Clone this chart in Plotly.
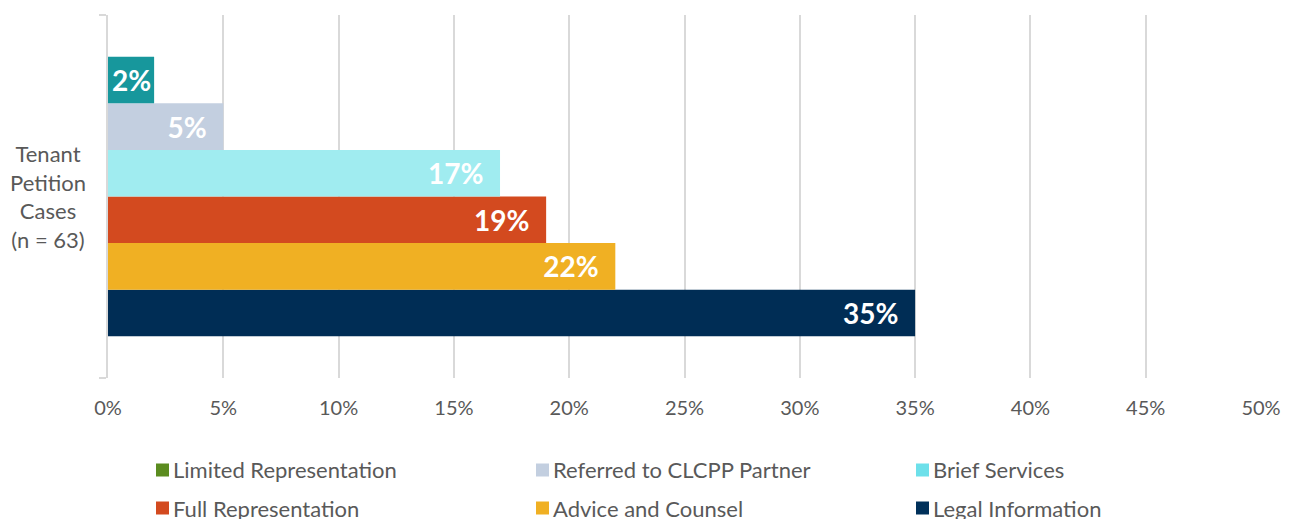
import plotly.graph_objects as go

category = ["Tenant<br>Petition<br>Cases<br>(n = 63)"]
series_names = ["Limited Representation", "Referred to CLCPP Partner", "Brief Services",
                "Full Representation", "Advice and Counsel", "Legal Information"]
series_values = [2, 5, 17, 19, 22, 35]
bar_colors = ["#17979c", "#c3cfe0", "#a0ecf0", "#d34a1f", "#f0b023", "#002d55"]
legend_colors = ["#5b8c1f", "#c3cfe0", "#6de0ea", "#d34a1f", "#f0b023", "#00305a"]
x_ticks = [0, 5, 10, 15, 20, 25, 30, 35, 40, 45, 50]

FONT = "Lato, Open Sans, sans-serif"
W, H = 1281, 511
L, R, T, B = 100, 28, 7, 141

fig = go.Figure()
# reverse so first series appears on top
for name, val, col in reversed(list(zip(series_names, series_values, bar_colors))):
    pad = "\u00a0\u00a0" if val >= 5 else ""
    fig.add_trace(go.Bar(
        y=category, x=[val], name=name, orientation="h",
        marker=dict(color=col, line=dict(width=0)),
        text=[f"{val}%{pad}"], textposition="inside", insidetextanchor="end",
        textangle=0, constraintext="none",
        textfont=dict(color="white", size=28, family=FONT, weight="bold"),
        showlegend=False, cliponaxis=False,
    ))

fig.update_layout(
    width=W, height=H,
    margin=dict(l=L, r=R, t=T, b=B, autoexpand=False),
    barmode="group", bargap=0.23, bargroupgap=0,
    plot_bgcolor="white", paper_bgcolor="white",
    font=dict(family=FONT, color="#595959", size=20),
)
fig.update_xaxes(
    range=[0, 50], tickvals=x_ticks, ticktext=[f"{t}%" for t in x_ticks],
    showgrid=True, gridcolor="#d9d9d9", gridwidth=2, zeroline=False,
    showline=False, ticks="", ticklabelstandoff=16, automargin=False,
    tickfont=dict(size=20, color="#595959", family=FONT),
)
fig.update_yaxes(
    showline=True, linecolor="#d9d9d9", linewidth=2,
    ticks="outside", tickson="boundaries", ticklen=7, tickcolor="#d9d9d9", tickwidth=2,
    showgrid=False, showticklabels=False, automargin=False,
)

pw, ph = W - L - R, H - T - B
# centered category label
fig.add_annotation(xref="paper", yref="y", x=(40 - L) / pw, y=category[0],
                   xanchor="center", yanchor="middle", align="center", showarrow=False,
                   text=category[0], font=dict(size=22, color="#595959", family=FONT))

# legend (3 columns x 2 rows), positions in figure pixels
col_x = [148, 528, 908]
row_y = [462, 500]
for i, (name, col) in enumerate(zip(series_names, legend_colors)):
    cx = col_x[i % 3]
    cy = row_y[i // 3]
    fig.add_shape(type="rect", xref="paper", yref="paper",
                  x0=(cx - L) / pw, x1=(cx + 13 - L) / pw,
                  y0=(H - B - (cy + 6.5)) / ph, y1=(H - B - (cy - 6.5)) / ph,
                  fillcolor=col, line=dict(width=0))
    fig.add_annotation(xref="paper", yref="paper",
                       x=(cx + 15 - L) / pw, y=(H - B - cy) / ph,
                       xanchor="left", yanchor="middle", showarrow=False,
                       text=name, font=dict(size=22, color="#595959", family=FONT))

fig.write_html("out.html")
